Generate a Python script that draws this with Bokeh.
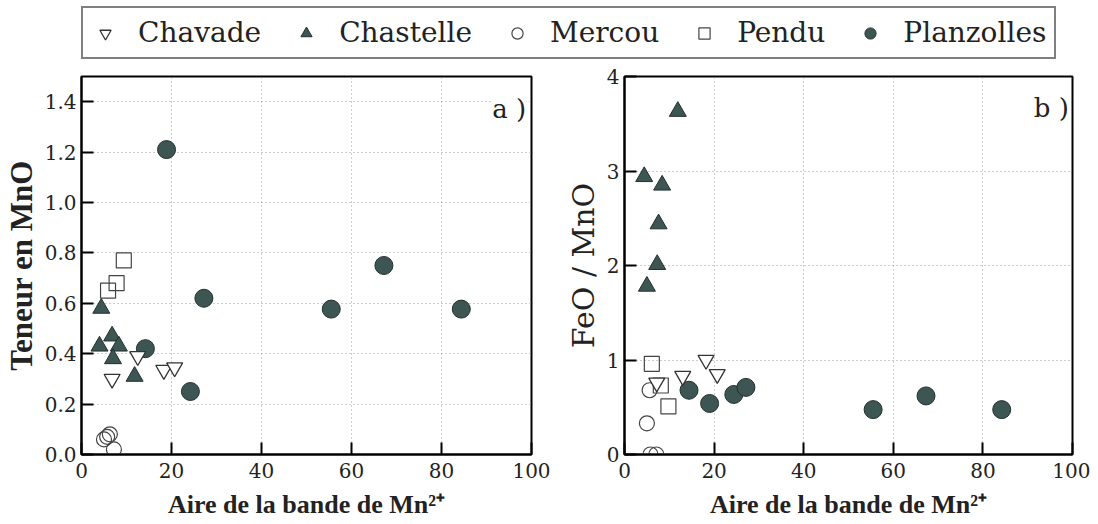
from bokeh.plotting import figure
from bokeh.layouts import column, row
from bokeh.models import (Range1d, FixedTicker, NumeralTickFormatter, Legend,
                          LegendItem, Label)
from bokeh.core.properties import value
from bokeh.embed import file_html
from bokeh.resources import INLINE

# ---------------- data ----------------
series_names = ["Chavade", "Chastelle", "Mercou", "Pendu", "Planzolles"]

# panel a) : MnO content vs Mn2+ band area
chavade_x_a = [6.8, 12.5, 18.3, 20.7]
chavade_y_a = [0.30, 0.39, 0.335, 0.345]
chastelle_x_a = [4.4, 4.0, 6.8, 8.3, 7.0, 11.8]
chastelle_y_a = [0.58, 0.43, 0.47, 0.43, 0.38, 0.31]
mercou_x_a = [5.0, 5.7, 6.3, 7.2]
mercou_y_a = [0.06, 0.07, 0.08, 0.02]
pendu_x_a = [5.9, 7.8, 9.4]
pendu_y_a = [0.65, 0.68, 0.77]
planzolles_x_a = [14.2, 18.9, 24.2, 27.2, 55.5, 67.2, 84.4]
planzolles_y_a = [0.42, 1.21, 0.25, 0.62, 0.577, 0.75, 0.577]

# panel b) : FeO / MnO vs Mn2+ band area
chavade_x_b = [7.2, 13.0, 18.2, 20.7]
chavade_y_b = [0.76, 0.83, 1.0, 0.85]
chastelle_x_b = [5.0, 4.4, 7.3, 7.6, 8.4, 11.9]
chastelle_y_b = [1.78, 2.94, 2.01, 2.44, 2.85, 3.63]
mercou_x_b = [5.0, 5.6, 5.8, 7.1]
mercou_y_b = [0.33, 0.68, 0.0, 0.0]
pendu_x_b = [6.1, 8.1, 9.8]
pendu_y_b = [0.96, 0.73, 0.51]
planzolles_x_b = [14.4, 19.0, 24.4, 27.1, 55.5, 67.3, 84.2]
planzolles_y_b = [0.68, 0.54, 0.635, 0.71, 0.475, 0.62, 0.475]

x_ticks = [0, 20, 40, 60, 80, 100]
y_ticks_a = [0.0, 0.2, 0.4, 0.6, 0.8, 1.0, 1.2, 1.4]
y_ticks_b = [0, 1, 2, 3, 4]

# ---------------- styles ----------------
FILL = "#3e5653"
EDGE = "#22302e"
STY = {
    "Chavade": dict(marker="inverted_triangle", size=16, fill_color="white",
                    fill_alpha=1.0, line_color="#333333", line_width=1.3),
    "Chastelle": dict(marker="triangle", size=17, fill_color=FILL,
                      line_color=EDGE, line_width=1),
    "Mercou": dict(marker="circle", size=15, fill_color="white", fill_alpha=0.0,
                   line_color="#444444", line_width=1.2),
    "Pendu": dict(marker="square", size=15, fill_color="white", fill_alpha=0.0,
                  line_color="#444444", line_width=1.2),
    "Planzolles": dict(marker="circle", size=18, fill_color=FILL,
                       line_color=EDGE, line_width=1),
}
DRAW_ORDER = ["Planzolles", "Chastelle", "Pendu", "Mercou", "Chavade"]


def make_panel(data, y_end, y_ticks, y_fmt, ylabel, ylabel_font, ylabel_style,
               ylabel_size, width, height, bl, br, bt, bb, tag, tag_x, tag_y):
    p = figure(width=width, height=height, x_range=Range1d(0, 100),
               y_range=Range1d(0, y_end), toolbar_location=None,
               output_backend="svg", min_border_left=bl, min_border_right=br,
               min_border_top=bt, min_border_bottom=bb)
    p.background_fill_color = "white"
    p.border_fill_color = "white"
    p.outline_line_color = "black"
    p.outline_line_width = 2
    p.outline_line_alpha = 1

    p.xaxis.ticker = FixedTicker(ticks=x_ticks)
    p.yaxis.ticker = FixedTicker(ticks=y_ticks)
    p.yaxis.formatter = NumeralTickFormatter(format=y_fmt)
    for ax in (p.xaxis, p.yaxis):
        ax.axis_line_color = "black"
        ax.axis_line_width = 2
        ax.major_tick_in = 12
        ax.major_tick_out = 0
        ax.minor_tick_in = 0
        ax.minor_tick_out = 0
        ax.major_tick_line_color = "black"
        ax.major_tick_line_width = 2
        ax.major_label_text_font = "DejaVu Serif"
        ax.major_label_text_font_size = "20px"
        ax.major_label_text_color = "#222222"
        ax.major_label_standoff = 5
    p.xaxis.major_label_standoff = 8

    p.xaxis.axis_label = "Aire de la bande de Mn\u00b2\u207a"
    p.xaxis.axis_label_text_font = "Liberation Serif"
    p.xaxis.axis_label_text_font_style = "bold"
    p.xaxis.axis_label_text_font_size = "26px"
    p.xaxis.axis_label_text_color = "#222222"
    p.xaxis.axis_label_standoff = 9

    p.yaxis.axis_label = ylabel
    p.yaxis.axis_label_text_font = ylabel_font
    p.yaxis.axis_label_text_font_style = ylabel_style
    p.yaxis.axis_label_text_font_size = ylabel_size
    p.yaxis.axis_label_text_color = "#222222"
    p.yaxis.axis_label_standoff = 3

    p.grid.grid_line_color = "#9a9a9a"
    p.grid.grid_line_dash = "1 3"
    p.grid.grid_line_width = 1

    lab = Label(x=tag_x, y=tag_y, text=tag, text_align="right",
                text_baseline="middle", text_font="DejaVu Serif",
                text_font_size="26px", text_color="#222222",
                background_fill_color="white", background_fill_alpha=1.0)
    p.add_layout(lab)

    for name in DRAW_ORDER:
        xs, ys = data[name]
        p.scatter(x=xs, y=ys, **STY[name])
    return p


data_a = {
    "Chavade": (chavade_x_a, chavade_y_a),
    "Chastelle": (chastelle_x_a, chastelle_y_a),
    "Mercou": (mercou_x_a, mercou_y_a),
    "Pendu": (pendu_x_a, pendu_y_a),
    "Planzolles": (planzolles_x_a, planzolles_y_a),
}
data_b = {
    "Chavade": (chavade_x_b, chavade_y_b),
    "Chastelle": (chastelle_x_b, chastelle_y_b),
    "Mercou": (mercou_x_b, mercou_y_b),
    "Pendu": (pendu_x_b, pendu_y_b),
    "Planzolles": (planzolles_x_b, planzolles_y_b),
}

LEG_H = 62
TOP = 14
FRAME_H = 378
BOTTOM = 68
PANEL_H = TOP + FRAME_H + BOTTOM

pa = make_panel(data_a, 1.5, y_ticks_a, "0.0", "Teneur en MnO",
                "Liberation Serif", "bold", "31px",
                width=81 + 450 + 31, height=PANEL_H, bl=81, br=31, bt=TOP,
                bb=BOTTOM, tag="a )", tag_x=98.8, tag_y=1.37)
pb = make_panel(data_b, 4, y_ticks_b, "0", "FeO / MnO",
                "DejaVu Serif", "normal", "30px",
                width=60 + 450 + 18, height=PANEL_H, bl=60, br=18, bt=TOP,
                bb=BOTTOM, tag="b )", tag_x=99.2, tag_y=3.67)

# ---------------- legend strip ----------------
lf = figure(width=1090, height=LEG_H, x_range=Range1d(0, 1),
            y_range=Range1d(0, 1), toolbar_location=None, output_backend="svg",
            min_border=0, x_axis_type=None, y_axis_type=None)
lf.outline_line_color = None
lf.background_fill_color = "white"
lf.border_fill_color = "white"
items = []
for name in series_names:
    r = lf.scatter(x=[-5], y=[-5], **STY[name])
    items.append(LegendItem(label=value(name), renderers=[r]))
leg = Legend(items=items, orientation="horizontal", location=(81, 3),
             border_line_color="black", border_line_width=2,
             background_fill_color="white", background_fill_alpha=1.0,
             padding=8, spacing=31, label_standoff=19,
             glyph_width=28, glyph_height=28, margin=0,
             label_text_font="DejaVu Serif", label_text_font_size="28px",
             label_text_color="#222222")
lf.add_layout(leg)

layout = column(lf, row(pa, pb))
open("out.html", "w").write(file_html(layout, INLINE))
